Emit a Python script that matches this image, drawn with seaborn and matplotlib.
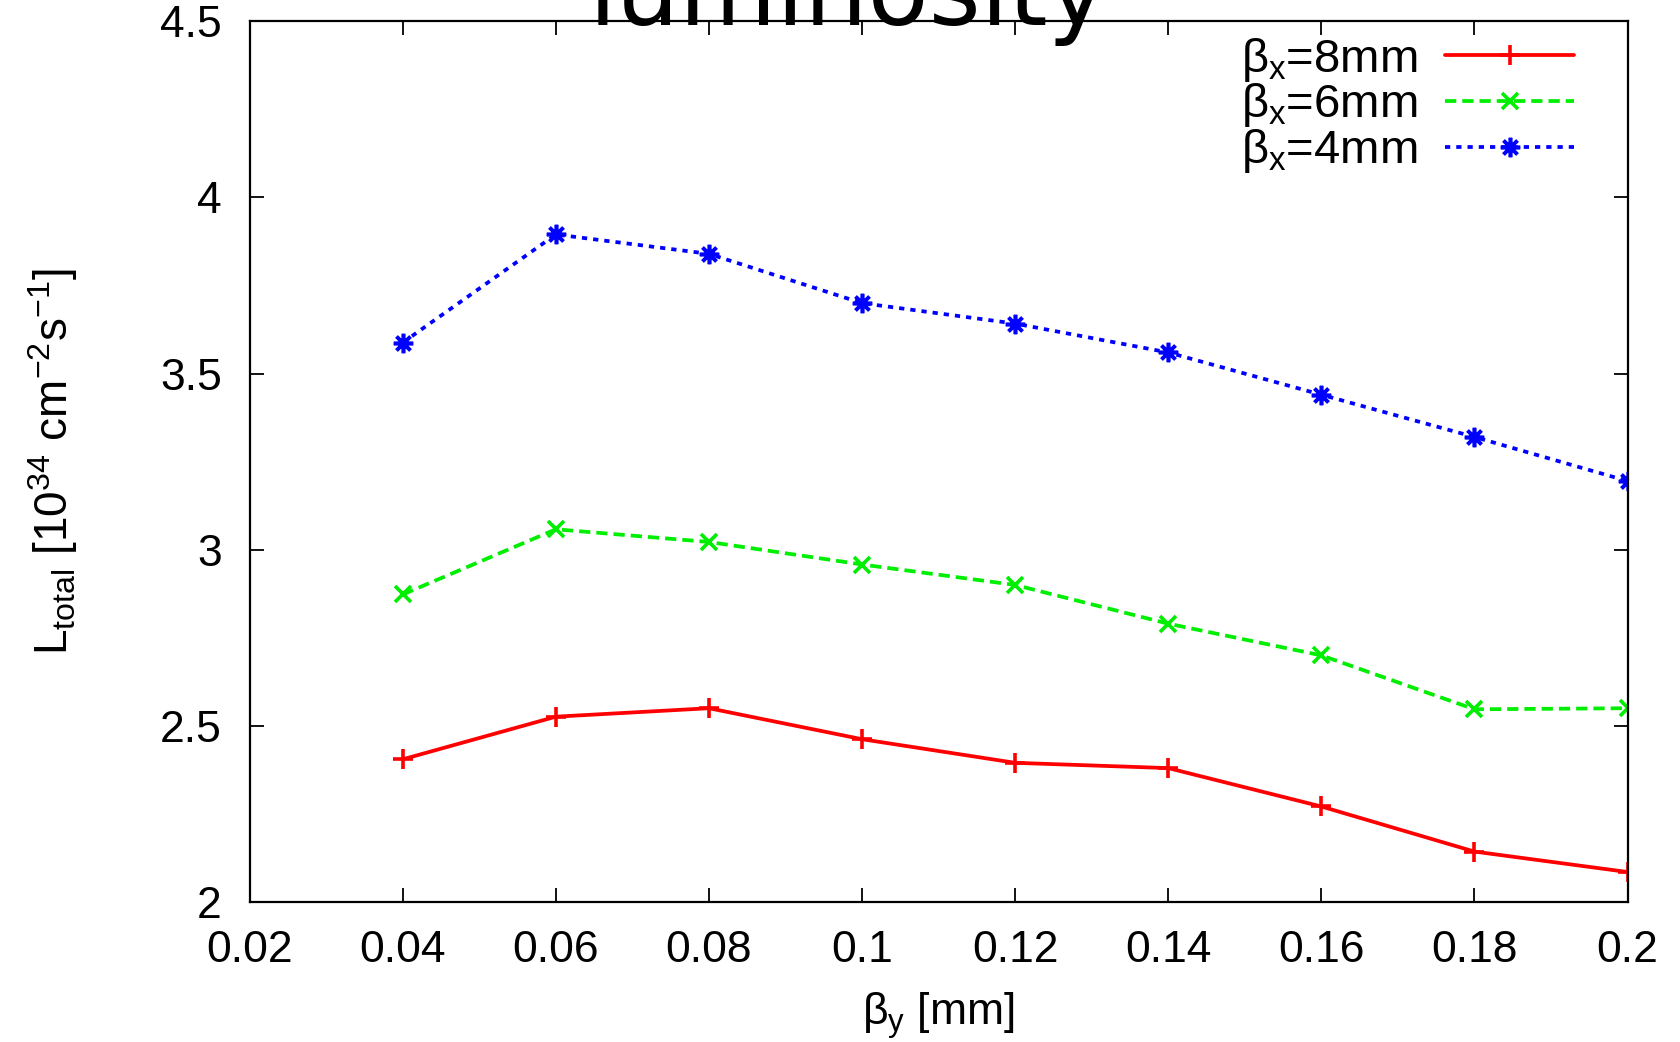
import matplotlib
matplotlib.use("Agg")
import matplotlib.pyplot as plt
import seaborn as sns
import pandas as pd

beta_y = [0.04, 0.06, 0.08, 0.10, 0.12, 0.14, 0.16, 0.18, 0.20]
lum_bx8 = [2.405, 2.526, 2.55, 2.462, 2.395, 2.38, 2.271, 2.143, 2.085]
lum_bx6 = [2.873, 3.058, 3.022, 2.958, 2.90, 2.79, 2.70, 2.547, 2.55]
lum_bx4 = [3.588, 3.895, 3.84, 3.70, 3.642, 3.56, 3.44, 3.32, 3.195]
series_labels = [r'$\beta_\mathrm{x}$=8mm', r'$\beta_\mathrm{x}$=6mm', r'$\beta_\mathrm{x}$=4mm']
xticks = [0.02, 0.04, 0.06, 0.08, 0.10, 0.12, 0.14, 0.16, 0.18, 0.20]
xticklabels = ["0.02", "0.04", "0.06", "0.08", "0.1", "0.12", "0.14", "0.16", "0.18", "0.2"]
yticks = [2, 2.5, 3, 3.5, 4, 4.5]
yticklabels = ["2", "2.5", "3", "3.5", "4", "4.5"]

sns.set_theme(style="ticks")
plt.rcParams['font.family'] = ['Liberation Sans', 'DejaVu Sans']
plt.rcParams['mathtext.fontset'] = 'custom'
plt.rcParams['mathtext.rm'] = 'Liberation Sans'
plt.rcParams['mathtext.it'] = 'Liberation Sans'
plt.rcParams['mathtext.bf'] = 'Liberation Sans:bold'
plt.rcParams['text.color'] = 'black'
plt.rcParams['axes.labelcolor'] = 'black'

fig = plt.figure(figsize=(16.8, 10.42), dpi=100)
ax = fig.add_axes([0.1486, 0.1344, 0.8202, 0.8451])

styles = [
    dict(color='#ff0000', linestyle='-', marker='+', markersize=14),
    dict(color='#00ee00', linestyle=(0, (3, 1.6)), marker='x', markersize=12),
    dict(color='#0000ff', linestyle=(0, (1.4, 1.6)), marker=(8, 2, 0), markersize=14),
]
for vals, lab, st in zip([lum_bx8, lum_bx6, lum_bx4], series_labels, styles):
    df = pd.DataFrame({'x': beta_y, 'y': vals})
    sns.lineplot(data=df, x='x', y='y', ax=ax, label=lab, lw=2.7,
                 markeredgewidth=2.6, markeredgecolor=st['color'], **st)

ax.set_xlim(0.02, 0.2)
ax.set_ylim(2, 4.5)
ax.set_xticks(xticks)
ax.set_xticklabels(xticklabels)
ax.set_yticks(yticks)
ax.set_yticklabels(yticklabels)
ax.tick_params(axis='both', which='both', direction='in', length=10, width=1.3,
               top=True, right=True, labelsize=32, color='black', labelcolor='black')
ax.tick_params(axis='x', pad=20)
ax.tick_params(axis='y', pad=20)
for s in ax.spines.values():
    s.set_linewidth(1.6)
    s.set_color('black')

ax.set_xlabel(r'$\beta_\mathrm{y}$ [mm]', fontsize=32)
ax.set_ylabel(r'L$_\mathrm{total}$ [10$^{34}$ cm$^{-2}$s$^{-1}$]', fontsize=33)
ax.xaxis.set_label_coords(0.5, -0.10)
ax.yaxis.set_label_coords(-0.123, 0.5)

leg = ax.legend(loc='upper right', frameon=False, markerfirst=False, fontsize=34,
                handlelength=2.73, handletextpad=0.6, labelspacing=-0.05,
                borderaxespad=0.0, bbox_to_anchor=(0.975, 1.005))

fig.text(0.505, 1 - 25 / 1042, 'luminosity', ha='center', va='baseline',
         fontsize=72, family='DejaVu Sans', color='black')

fig.savefig('out.png', dpi=100, facecolor='white')
